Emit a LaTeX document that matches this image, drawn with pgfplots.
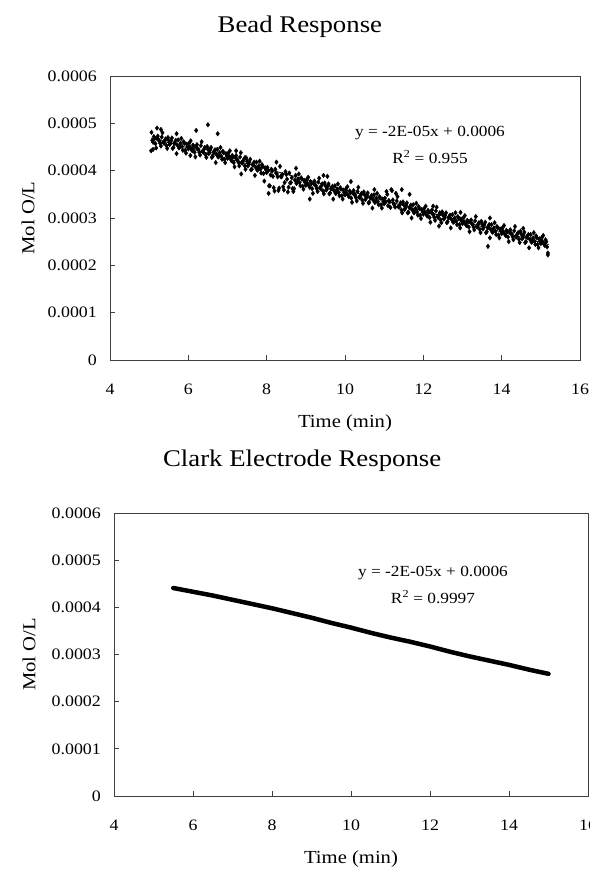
\documentclass[border=0pt]{standalone}
\usepackage{fontspec}
\setmainfont{Liberation Serif}[FakeStretch=1.12]
\usepackage{pgfplots}
\pgfplotsset{compat=1.18}

\pgfplotsset{
  respstyle/.style={
    scale only axis,
    anchor=south west,
    xmin=4, xmax=16, ymin=0, ymax=0.0006,
    xtick={4,6,8,10,12,14,16},
    ytick={0,0.0001,0.0002,0.0003,0.0004,0.0005,0.0006},
    yticklabels={0,0.0001,0.0002,0.0003,0.0004,0.0005,0.0006},
    scaled y ticks=false,
    xtick pos=left, ytick pos=left,
    tick align=inside,
    major tick length=5bp,
    axis line style={black!75, line width=0.8bp},
    tick style={black!75, line width=0.8bp},
    /pgf/number format/assume math mode=true,
    tick label style={font=\fontsize{16}{18}\selectfont},
    yticklabel style={anchor=east, inner sep=0pt, xshift=-13bp},
    xticklabel style={anchor=center, inner sep=0pt, yshift=-29bp},
    label style={font=\fontsize{18.5}{21}\selectfont},
    xlabel={Time (min)},
    ylabel={Mol O/L},
    xlabel style={at={(axis description cs:0.5,0)}, anchor=center, yshift=-63bp},
    title style={font=\fontsize{24}{28}\selectfont, anchor=center},
  },
  beadmark/.style={only marks, mark=diamond*, mark size=2.3bp, black},
}

\begin{document}
\begin{tikzpicture}
\useasboundingbox (0,0) rectangle (590bp,870bp);

% Bead response
\begin{axis}[respstyle,
  at={(110bp,510bp)}, width=470bp, height=284bp,
  ylabel style={at={(axis description cs:0,0.5)}, anchor=center, yshift=82bp},
  title={Bead Response},
  title style={at={(0.404,1)}, yshift=43bp}]
\addplot[beadmark] coordinates {
(5.06,0.000481)(5.10,0.000460)(5.14,0.000468)(5.18,0.000448)(5.22,0.000473)(5.26,0.000463)(5.30,0.000452)(5.34,0.000480)(5.38,0.000458)(5.42,0.000467)(5.46,0.000447)(5.50,0.000464)(5.54,0.000457)(5.58,0.000469)(5.62,0.000449)(5.66,0.000458)(5.70,0.000436)(5.74,0.000465)(5.78,0.000450)(5.82,0.000468)(5.86,0.000443)(5.90,0.000458)(5.94,0.000437)(5.98,0.000451)
(6.02,0.000458)(6.06,0.000463)(6.10,0.000442)(6.14,0.000450)(6.18,0.000429)(6.22,0.000455)(6.26,0.000445)(6.30,0.000433)(6.34,0.000461)(6.38,0.000439)(6.42,0.000449)(6.46,0.000428)(6.50,0.000445)(6.54,0.000438)(6.58,0.000449)(6.62,0.000430)(6.66,0.000439)(6.70,0.000417)(6.74,0.000445)(6.78,0.000430)(6.82,0.000449)(6.86,0.000424)(6.90,0.000438)(6.94,0.000417)(6.98,0.000431)
(7.02,0.000437)(7.06,0.000442)(7.10,0.000421)(7.14,0.000429)(7.18,0.000408)(7.22,0.000432)(7.26,0.000422)(7.30,0.000410)(7.34,0.000438)(7.38,0.000416)(7.42,0.000424)(7.46,0.000403)(7.50,0.000420)(7.54,0.000413)(7.58,0.000424)(7.62,0.000403)(7.66,0.000412)(7.70,0.000390)(7.74,0.000418)(7.78,0.000403)(7.82,0.000420)(7.86,0.000395)(7.90,0.000409)(7.94,0.000378)(7.98,0.000402)
(8.02,0.000407)(8.06,0.000368)(8.10,0.000391)(8.14,0.000399)(8.18,0.000364)(8.22,0.000403)(8.26,0.000393)(8.30,0.000358)(8.34,0.000409)(8.38,0.000387)(8.42,0.000366)(8.46,0.000375)(8.50,0.000392)(8.54,0.000355)(8.58,0.000395)(8.62,0.000375)(8.66,0.000362)(8.70,0.000362)(8.74,0.000390)(8.78,0.000375)(8.82,0.000393)(8.86,0.000368)(8.90,0.000382)(8.94,0.000361)(8.98,0.000375)
(9.02,0.000381)(9.06,0.000386)(9.10,0.000365)(9.14,0.000373)(9.18,0.000352)(9.22,0.000378)(9.26,0.000368)(9.30,0.000356)(9.34,0.000384)(9.38,0.000362)(9.42,0.000372)(9.46,0.000351)(9.50,0.000368)(9.54,0.000361)(9.58,0.000372)(9.62,0.000353)(9.66,0.000362)(9.70,0.000340)(9.74,0.000368)(9.78,0.000353)(9.82,0.000372)(9.86,0.000347)(9.90,0.000361)(9.94,0.000340)(9.98,0.000354)
(10.02,0.000361)(10.06,0.000366)(10.10,0.000345)(10.14,0.000353)(10.18,0.000333)(10.22,0.000358)(10.26,0.000348)(10.30,0.000336)(10.34,0.000365)(10.38,0.000343)(10.42,0.000352)(10.46,0.000331)(10.50,0.000349)(10.54,0.000342)(10.58,0.000353)(10.62,0.000333)(10.66,0.000342)(10.70,0.000321)(10.74,0.000349)(10.78,0.000334)(10.82,0.000352)(10.86,0.000328)(10.90,0.000342)(10.94,0.000321)(10.98,0.000335)
(11.02,0.000342)(11.06,0.000356)(11.10,0.000326)(11.14,0.000334)(11.18,0.000360)(11.22,0.000338)(11.26,0.000328)(11.30,0.000352)(11.34,0.000345)(11.38,0.000323)(11.42,0.000332)(11.46,0.000311)(11.50,0.000328)(11.54,0.000321)(11.58,0.000332)(11.62,0.000312)(11.66,0.000321)(11.70,0.000300)(11.74,0.000328)(11.78,0.000313)(11.82,0.000331)(11.86,0.000306)(11.90,0.000320)(11.94,0.000299)(11.98,0.000313)
(12.02,0.000320)(12.06,0.000325)(12.10,0.000304)(12.14,0.000312)(12.18,0.000291)(12.22,0.000317)(12.26,0.000307)(12.30,0.000295)(12.34,0.000323)(12.38,0.000301)(12.42,0.000311)(12.46,0.000290)(12.50,0.000307)(12.54,0.000300)(12.58,0.000311)(12.62,0.000292)(12.66,0.000301)(12.70,0.000279)(12.74,0.000307)(12.78,0.000292)(12.82,0.000311)(12.86,0.000286)(12.90,0.000300)(12.94,0.000279)(12.98,0.000293)
(13.02,0.000300)(13.06,0.000305)(13.10,0.000284)(13.14,0.000292)(13.18,0.000271)(13.22,0.000296)(13.26,0.000287)(13.30,0.000275)(13.34,0.000303)(13.38,0.000281)(13.42,0.000290)(13.46,0.000269)(13.50,0.000287)(13.54,0.000280)(13.58,0.000291)(13.62,0.000271)(13.66,0.000280)(13.70,0.000258)(13.74,0.000286)(13.78,0.000271)(13.82,0.000290)(13.86,0.000265)(13.90,0.000279)(13.94,0.000258)(13.98,0.000272)
(14.02,0.000279)(14.06,0.000284)(14.10,0.000263)(14.14,0.000271)(14.18,0.000250)(14.22,0.000275)(14.26,0.000266)(14.30,0.000254)(14.34,0.000282)(14.38,0.000260)(14.42,0.000269)(14.46,0.000248)(14.50,0.000266)(14.54,0.000259)(14.58,0.000270)(14.62,0.000250)(14.66,0.000259)(14.70,0.000237)(14.74,0.000265)(14.78,0.000250)(14.82,0.000269)(14.86,0.000244)(14.90,0.000258)(14.94,0.000237)(14.98,0.000251)
(15.02,0.000258)(15.06,0.000263)(15.10,0.000242)(15.14,0.000250)(15.18,0.000222)
};
\addplot[beadmark] coordinates {
(5.08,0.000464)(5.12,0.000472)(5.16,0.000457)(5.20,0.000468)(5.24,0.000465)(5.28,0.000458)(5.32,0.000471)(5.36,0.000460)(5.40,0.000464)(5.44,0.000453)(5.48,0.000470)(5.52,0.000455)(5.56,0.000463)(5.60,0.000447)(5.64,0.000458)(5.68,0.000464)(5.72,0.000454)(5.76,0.000448)(5.80,0.000458)(5.84,0.000451)(5.88,0.000461)(5.92,0.000443)(5.96,0.000456)
(6.00,0.000446)(6.04,0.000450)(6.08,0.000445)(6.12,0.000454)(6.16,0.000439)(6.20,0.000450)(6.24,0.000446)(6.28,0.000439)(6.32,0.000453)(6.36,0.000441)(6.40,0.000445)(6.44,0.000434)(6.48,0.000451)(6.52,0.000436)(6.56,0.000444)(6.60,0.000428)(6.64,0.000439)(6.68,0.000444)(6.72,0.000435)(6.76,0.000429)(6.80,0.000438)(6.84,0.000431)(6.88,0.000441)(6.92,0.000424)(6.96,0.000436)
(7.00,0.000426)(7.04,0.000430)(7.08,0.000425)(7.12,0.000432)(7.16,0.000417)(7.20,0.000428)(7.24,0.000424)(7.28,0.000417)(7.32,0.000429)(7.36,0.000417)(7.40,0.000421)(7.44,0.000410)(7.48,0.000427)(7.52,0.000410)(7.56,0.000418)(7.60,0.000402)(7.64,0.000413)(7.68,0.000418)(7.72,0.000407)(7.76,0.000401)(7.80,0.000410)(7.84,0.000403)(7.88,0.000413)(7.92,0.000394)(7.96,0.000406)
(8.00,0.000396)(8.04,0.000400)(8.08,0.000368)(8.12,0.000403)(8.16,0.000388)(8.20,0.000357)(8.24,0.000395)(8.28,0.000387)(8.32,0.000363)(8.36,0.000388)(8.40,0.000392)(8.44,0.000359)(8.48,0.000398)(8.52,0.000382)(8.56,0.000365)(8.60,0.000374)(8.64,0.000385)(8.68,0.000356)(8.72,0.000380)(8.76,0.000373)(8.80,0.000382)(8.84,0.000375)(8.88,0.000385)(8.92,0.000367)(8.96,0.000379)
(9.00,0.000369)(9.04,0.000373)(9.08,0.000368)(9.12,0.000377)(9.16,0.000362)(9.20,0.000373)(9.24,0.000369)(9.28,0.000362)(9.32,0.000376)(9.36,0.000364)(9.40,0.000368)(9.44,0.000357)(9.48,0.000374)(9.52,0.000359)(9.56,0.000367)(9.60,0.000351)(9.64,0.000362)(9.68,0.000367)(9.72,0.000358)(9.76,0.000352)(9.80,0.000361)(9.84,0.000354)(9.88,0.000364)(9.92,0.000347)(9.96,0.000359)
(10.00,0.000349)(10.04,0.000353)(10.08,0.000348)(10.12,0.000357)(10.16,0.000342)(10.20,0.000353)(10.24,0.000349)(10.28,0.000343)(10.32,0.000356)(10.36,0.000344)(10.40,0.000348)(10.44,0.000338)(10.48,0.000355)(10.52,0.000339)(10.56,0.000347)(10.60,0.000332)(10.64,0.000343)(10.68,0.000348)(10.72,0.000338)(10.76,0.000333)(10.80,0.000342)(10.84,0.000335)(10.88,0.000345)(10.92,0.000328)(10.96,0.000340)
(11.00,0.000330)(11.04,0.000334)(11.08,0.000350)(11.12,0.000337)(11.16,0.000322)(11.20,0.000358)(11.24,0.000330)(11.28,0.000323)(11.32,0.000336)(11.36,0.000324)(11.40,0.000328)(11.44,0.000317)(11.48,0.000334)(11.52,0.000318)(11.56,0.000327)(11.60,0.000311)(11.64,0.000322)(11.68,0.000327)(11.72,0.000317)(11.76,0.000311)(11.80,0.000320)(11.84,0.000313)(11.88,0.000324)(11.92,0.000306)(11.96,0.000318)
(12.00,0.000308)(12.04,0.000312)(12.08,0.000307)(12.12,0.000316)(12.16,0.000301)(12.20,0.000312)(12.24,0.000308)(12.28,0.000301)(12.32,0.000315)(12.36,0.000303)(12.40,0.000307)(12.44,0.000296)(12.48,0.000313)(12.52,0.000298)(12.56,0.000306)(12.60,0.000290)(12.64,0.000301)(12.68,0.000306)(12.72,0.000297)(12.76,0.000291)(12.80,0.000300)(12.84,0.000293)(12.88,0.000303)(12.92,0.000286)(12.96,0.000298)
(13.00,0.000288)(13.04,0.000292)(13.08,0.000287)(13.12,0.000295)(13.16,0.000281)(13.20,0.000292)(13.24,0.000288)(13.28,0.000281)(13.32,0.000294)(13.36,0.000282)(13.40,0.000287)(13.44,0.000276)(13.48,0.000293)(13.52,0.000277)(13.56,0.000285)(13.60,0.000269)(13.64,0.000280)(13.68,0.000286)(13.72,0.000276)(13.76,0.000270)(13.80,0.000279)(13.84,0.000272)(13.88,0.000282)(13.92,0.000264)(13.96,0.000277)
(14.00,0.000267)(14.04,0.000271)(14.08,0.000266)(14.12,0.000274)(14.16,0.000260)(14.20,0.000271)(14.24,0.000267)(14.28,0.000260)(14.32,0.000273)(14.36,0.000261)(14.40,0.000266)(14.44,0.000255)(14.48,0.000272)(14.52,0.000256)(14.56,0.000264)(14.60,0.000248)(14.64,0.000260)(14.68,0.000265)(14.72,0.000255)(14.76,0.000249)(14.80,0.000258)(14.84,0.000251)(14.88,0.000262)(14.92,0.000244)(14.96,0.000256)
(15.00,0.000246)(15.04,0.000250)(15.08,0.000245)(15.12,0.000254)(15.16,0.000239)
};
\addplot[beadmark] coordinates {
(5.05,0.000442)(5.10,0.000445)(5.20,0.000490)(5.30,0.000487)(5.70,0.000478)(6.05,0.000432)(6.20,0.000485)(6.50,0.000497)(6.75,0.000478)(7.22,0.000442)(7.35,0.000393)(7.45,0.000428)(8.05,0.000352)(8.25,0.000418)(8.75,0.000405)(9.10,0.000340)(9.45,0.000390)(9.55,0.000388)(10.15,0.000377)(10.75,0.000360)(11.45,0.000360)(11.65,0.000350)(12.25,0.000325)(12.40,0.000283)(12.95,0.000312)(13.65,0.000240)(13.70,0.000300)(14.55,0.000278)(15.18,0.000226)
};
\addplot[black, line width=0.8bp] coordinates {(5.05,0.000469) (15.2,0.000244)};
\end{axis}

% Clark electrode response
\begin{axis}[respstyle,
  at={(114bp,74bp)}, width=474bp, height=283bp,
  ylabel style={at={(axis description cs:0,0.5)}, anchor=center, yshift=85bp},
  title={Clark Electrode Response},
  title style={at={(0.397,1)}, yshift=46bp}]
\addplot[black, line width=4.5bp, line cap=round] coordinates {
(5.5,0.000441) (6.0,0.000433) (6.5,0.000425) (7.0,0.000416) (7.5,0.000407)
(8.0,0.000398) (8.5,0.000388) (9.0,0.000378) (9.5,0.000367) (10.0,0.000357)
(10.5,0.000346) (11.0,0.000336) (11.5,0.000327) (12.0,0.000317) (12.5,0.000306)
(13.0,0.000296) (13.5,0.000287) (14.0,0.000278) (14.5,0.000268) (15.0,0.000259)
};
\end{axis}

\node[font=\fontsize{15.5}{18}\selectfont] at (430bp,737bp) {y = -2E-05x + 0.0006};
\node[font=\fontsize{15.5}{18}\selectfont] at (430bp,713bp) {R\textsuperscript{2} = 0.955};
\node[font=\fontsize{15.5}{18}\selectfont] at (433bp,297bp) {y = -2E-05x + 0.0006};
\node[font=\fontsize{15.5}{18}\selectfont] at (433bp,273bp) {R\textsuperscript{2} = 0.9997};
\end{tikzpicture}
\end{document}
